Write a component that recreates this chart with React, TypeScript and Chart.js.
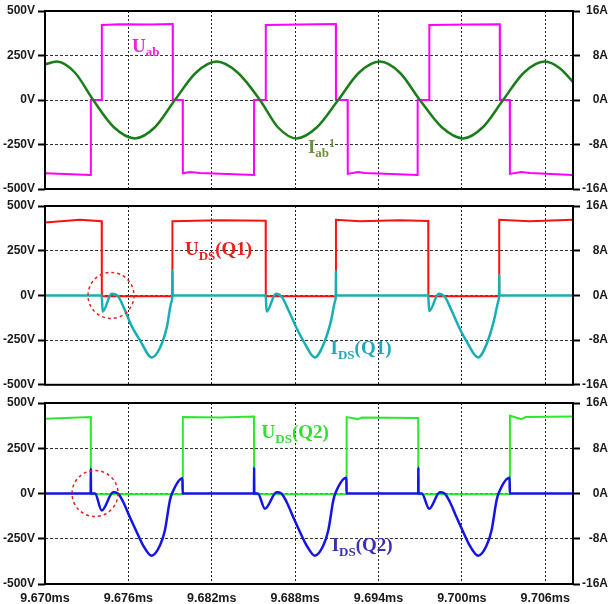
import React, { useEffect, useRef } from "react";
import { Chart, registerables } from "chart.js";

Chart.register(...registerables);

type Pt = [number, number];

// ---------- axes ----------
const X_MIN = 9.67;
const X_MAX = 9.708;
const X_TICKS = [9.67, 9.676, 9.682, 9.688, 9.694, 9.7, 9.706];
const V_TICKS = [-500, -250, 0, 250, 500];
const A_TICKS = [-16, -8, 0, 8, 16];

// ---------- panel 1 : Uab (V), Iab fundamental (A) ----------
const UAB: Pt[] = [
  [9.67, -412], [9.67329, -421], [9.6733, 0], [9.67408, 0], [9.67409, 421],
  [9.6754, 425], [9.67755, 424], [9.67919, 427], [9.6792, 0], [9.67991, 0],
  [9.67992, -412], [9.68043, -405], [9.68115, -410], [9.68504, -421], [9.68505, 0],
  [9.68588, 0], [9.68589, 421], [9.68834, 424], [9.69093, 427], [9.69094, 0],
  [9.69178, 0], [9.69179, -415], [9.69252, -404], [9.69302, -410], [9.69681, -421],
  [9.69682, 0], [9.69765, 0], [9.69766, 421], [9.70057, 424], [9.70273, 426],
  [9.70274, 0], [9.70345, 0], [9.70346, -415], [9.70429, -404], [9.70489, -410],
  [9.70798, -421],
];

const IAB: Pt[] = [
  [9.67, 6.4], [9.67084, 6.9], [9.67216, 4.9], [9.67347, 0], [9.67496, -4.9],
  [9.67647, -6.9], [9.67791, -4.9], [9.67935, 0], [9.68086, 4.9], [9.68235, 6.9],
  [9.68388, 4.9], [9.68547, 0], [9.68676, -4.9], [9.68811, -6.9], [9.68957, -4.9],
  [9.6911, 0], [9.69259, 4.9], [9.6941, 6.9], [9.69554, 4.9], [9.69698, 0],
  [9.69856, -4.9], [9.70009, -6.9], [9.70151, -4.9], [9.70297, 0], [9.70446, 4.9],
  [9.70597, 6.9], [9.70705, 5.7], [9.70798, 3.3],
];

// ---------- panel 2 : Q1 ----------
const UDS1: Pt[] = [
  [9.67, 408], [9.67252, 423], [9.67408, 415], [9.67409, -5], [9.67916, -5],
  [9.67917, 415], [9.68259, 420], [9.68588, 418], [9.68589, -5], [9.69093, -5],
  [9.69094, 423], [9.69266, 415], [9.69554, 420], [9.69758, 416], [9.69759, -5],
  [9.70268, -5], [9.70269, 423], [9.70489, 415], [9.70798, 423],
];

const IDS1: Pt[] = [
  [9.67, 0], [9.67408, 0], [9.67415, -2.9], [9.6748, 0.3], [9.67527, -0.2],
  [9.67576, -2.7], [9.67624, -5.5], [9.67683, -8.0], [9.67768, -11.1], [9.67827, -9.4],
  [9.67876, -5.8], [9.67911, -1.1], [9.67916, 0], [9.67917, 4.4], [9.67918, 0],
  [9.68588, 0], [9.68595, -2.9], [9.68662, 0.3], [9.68705, -0.3], [9.68755, -2.8],
  [9.68806, -5.6], [9.68863, -8.3], [9.68942, -11.1], [9.69007, -8.6], [9.69058, -4.6],
  [9.6909, -0.8], [9.69093, 0], [9.69094, 4.4], [9.69095, 0], [9.69758, 0],
  [9.69765, -2.8], [9.69834, 0.3], [9.69878, -0.3], [9.69928, -2.8], [9.69978, -5.6],
  [9.70036, -8.3], [9.70117, -11.1], [9.7018, -8.6], [9.7023, -4.6], [9.70265, -0.8],
  [9.70268, 0], [9.70269, 3.7], [9.7027, 0], [9.70798, 0],
];

// ---------- panel 3 : Q2 ----------
const UDS2: Pt[] = [
  [9.67, 413], [9.67329, 422], [9.6733, -4], [9.67991, -4], [9.67992, 422],
  [9.68259, 420], [9.68504, 425], [9.68505, -4], [9.6917, -4], [9.69171, 422],
  [9.69252, 411], [9.69281, 420], [9.69686, 417], [9.69687, -4], [9.70345, -4],
  [9.70346, 430], [9.70429, 411], [9.7046, 422], [9.70798, 425],
];

const IDS2: Pt[] = [
  [9.67, 0], [9.67329, 0], [9.6733, 4.4], [9.67331, 0], [9.6736, 0],
  [9.67408, -3.0], [9.67491, 0.2], [9.67525, 0], [9.67563, -1.5], [9.67611, -4.2],
  [9.6766, -6.8], [9.67707, -9.2], [9.67768, -11.0], [9.67827, -9.2], [9.67863, -6.5],
  [9.67899, -1.2], [9.67914, 0], [9.67989, 2.7], [9.67991, 0], [9.68504, 0],
  [9.68505, 4.6], [9.68506, 0], [9.68532, 0], [9.68583, -2.7], [9.68667, 0.2],
  [9.68701, 0], [9.68739, -1.5], [9.68787, -4.2], [9.68835, -6.8], [9.68883, -9.2],
  [9.68942, -11.0], [9.69003, -9.2], [9.69039, -6.5], [9.69075, -1.2], [9.69089, 0],
  [9.69169, 2.8], [9.6917, 0], [9.69686, 0], [9.69687, 4.6], [9.69688, 0],
  [9.69712, 0], [9.69765, -2.7], [9.69842, 0.2], [9.69876, 0], [9.69914, -1.5],
  [9.69962, -4.2], [9.7001, -6.8], [9.70057, -9.2], [9.70118, -11.0], [9.70178, -9.2],
  [9.70214, -6.5], [9.7025, -1.2], [9.70264, 0], [9.70344, 2.8], [9.70345, 0],
  [9.70798, 0],
];

// ---------- annotations ----------
interface LabelPart { text: string; size: number; dy: number }
interface Note { t: number; v: number; color: string; parts: LabelPart[] }
interface Ring { t: number; v: number; r: number }

const NOTES_1: Note[] = [
  { t: 9.67626, v: 270, color: "#f020e0", parts: [{ text: "U", size: 19, dy: 0 }, { text: "ab", size: 13, dy: 4 }] },
  { t: 9.68892, v: -298, color: "#6e8e3c", parts: [{ text: "I", size: 19, dy: 0 }, { text: "ab", size: 13, dy: 4 }, { text: "1", size: 12, dy: -6 }] },
];
const NOTES_2: Note[] = [
  { t: 9.68007, v: 227, color: "#ee1c1c", parts: [{ text: "U", size: 19, dy: 0 }, { text: "DS", size: 13, dy: 5 }, { text: "(Q1)", size: 19, dy: 0 }] },
  { t: 9.69055, v: -327, color: "#22aab4", parts: [{ text: "I", size: 19, dy: 0 }, { text: "DS", size: 13, dy: 5 }, { text: "(Q1)", size: 19, dy: 0 }] },
];
const NOTES_3: Note[] = [
  { t: 9.68559, v: 307, color: "#33dd33", parts: [{ text: "U", size: 19, dy: 0 }, { text: "DS", size: 13, dy: 5 }, { text: "(Q2)", size: 19, dy: 0 }] },
  { t: 9.69063, v: -315, color: "#3a30b0", parts: [{ text: "I", size: 19, dy: 0 }, { text: "DS", size: 13, dy: 5 }, { text: "(Q2)", size: 19, dy: 0 }] },
];
const RINGS_2: Ring[] = [{ t: 9.67475, v: 0, r: 23 }];
const RINGS_3: Ring[] = [{ t: 9.6736, v: 0, r: 23 }];

interface Series { data: Pt[]; axis: "yV" | "yA"; color: string; width: number; smooth: boolean }
interface Panel {
  top: number; height: number; padTop: number; padBottom: number; xHeight: number;
  showX: boolean; series: Series[]; rings: Ring[]; notes: Note[];
}

const PANELS: Panel[] = [
  {
    top: 0, height: 200, padTop: 11, padBottom: 11, xHeight: 0, showX: false,
    series: [
      { data: IAB, axis: "yA", color: "#1a7d1a", width: 2.5, smooth: true },
      { data: UAB, axis: "yV", color: "#ff00ff", width: 2, smooth: false },
    ],
    rings: [], notes: NOTES_1,
  },
  {
    top: 195, height: 200, padTop: 11, padBottom: 10, xHeight: 0, showX: false,
    series: [
      { data: IDS1, axis: "yA", color: "#18afb4", width: 2.5, smooth: true },
      { data: UDS1, axis: "yV", color: "#ff1010", width: 2, smooth: false },
    ],
    rings: RINGS_2, notes: NOTES_2,
  },
  {
    top: 390, height: 214, padTop: 13, padBottom: 0, xHeight: 20, showX: true,
    series: [
      { data: IDS2, axis: "yA", color: "#1414e6", width: 2.5, smooth: true },
      { data: UDS2, axis: "yV", color: "#2ee82e", width: 2, smooth: false },
    ],
    rings: RINGS_3, notes: NOTES_3,
  },
];

const AXIS_FONT = { family: '"Liberation Sans", Arial, sans-serif', size: 12, weight: "bold" as const };
const X_FONT = { family: '"Liberation Sans", Arial, sans-serif', size: 12.5, weight: "bold" as const };
const TRANSPARENT = "rgba(0,0,0,0)";

function makeOverlay(rings: Ring[], notes: Note[]) {
  return {
    id: "overlay",
    afterDatasetsDraw(chart: any) {
      const { ctx, scales, chartArea: a } = chart;
      const xs = scales.x;
      const ys = scales.yV;
      ctx.save();
      rings.forEach((r) => {
        ctx.beginPath();
        ctx.setLineDash([3, 3]);
        ctx.lineWidth = 1.5;
        ctx.strokeStyle = "#e82020";
        ctx.arc(xs.getPixelForValue(r.t), ys.getPixelForValue(r.v), r.r, 0, Math.PI * 2);
        ctx.stroke();
      });
      ctx.setLineDash([]);
      notes.forEach((n) => {
        let x = xs.getPixelForValue(n.t);
        const y = ys.getPixelForValue(n.v);
        ctx.fillStyle = n.color;
        ctx.textBaseline = "alphabetic";
        ctx.textAlign = "left";
        n.parts.forEach((p) => {
          ctx.font = `bold ${p.size}px "Liberation Serif", "Times New Roman", serif`;
          ctx.fillText(p.text, x, y + p.dy);
          x += ctx.measureText(p.text).width;
        });
      });
      ctx.strokeStyle = "#000";
      ctx.lineWidth = 2;
      ctx.strokeRect(a.left, a.top, a.right - a.left, a.bottom - a.top);
      ctx.restore();
    },
  };
}

function makeConfig(p: Panel): any {
  return {
    type: "line",
    data: {
      datasets: p.series.map((s) => ({
        data: s.data.map(([x, y]) => ({ x, y })),
        yAxisID: s.axis,
        borderColor: s.color,
        borderWidth: s.width,
        pointRadius: 0,
        fill: false,
        tension: 0,
        cubicInterpolationMode: s.smooth ? "monotone" : "default",
      })),
    },
    options: {
      animation: false,
      responsive: false,
      events: [],
      layout: { padding: { top: p.padTop, bottom: p.padBottom, left: 0, right: 1 } },
      plugins: { legend: { display: false }, tooltip: { enabled: false } },
      scales: {
        x: {
          type: "linear",
          min: X_MIN,
          max: X_MAX,
          afterBuildTicks: (s: any) => { s.ticks = X_TICKS.map((v) => ({ value: v })); },
          afterFit: (s: any) => { s.height = p.xHeight; },
          ticks: {
            display: p.showX,
            callback: (v: any) => Number(v).toFixed(3) + "ms",
            font: X_FONT,
            color: "#1a1a1a",
            padding: 7,
            maxRotation: 0,
            autoSkip: false,
          },
          grid: {
            color: (c: any) => (c.index === 0 ? TRANSPARENT : "#222"),
            lineWidth: 1,
            drawTicks: false,
          },
          border: { display: false, dash: [2, 2] },
        },
        yV: {
          type: "linear",
          position: "left",
          min: -500,
          max: 500,
          afterBuildTicks: (s: any) => { s.ticks = V_TICKS.map((v) => ({ value: v })); },
          afterFit: (s: any) => { s.width = 45; },
          ticks: { callback: (v: any) => `${v}V`, font: AXIS_FONT, color: "#1a1a1a", padding: 3 },
          grid: {
            color: (c: any) => (c.index === 0 || c.index === V_TICKS.length - 1 ? TRANSPARENT : "#333"),
            lineWidth: 1,
            tickColor: "#000",
            tickWidth: 2,
            tickLength: 7,
          },
          border: { display: false, dash: [3, 2] },
        },
        yA: {
          type: "linear",
          position: "right",
          min: -16,
          max: 16,
          afterBuildTicks: (s: any) => { s.ticks = A_TICKS.map((v) => ({ value: v })); },
          afterFit: (s: any) => { s.width = 35; },
          ticks: { callback: (v: any) => `${v}A`, font: AXIS_FONT, color: "#1a1a1a", padding: 3, crossAlign: "far" },
          grid: {
            drawOnChartArea: false,
            color: "#000",
            tickColor: "#000",
            tickWidth: 2,
            tickLength: 7,
          },
          border: { display: false },
        },
      },
    },
    plugins: [makeOverlay(p.rings, p.notes)],
  };
}

function PanelChart({ p }: { p: Panel }) {
  const ref = useRef<HTMLCanvasElement | null>(null);
  useEffect(() => {
    if (!ref.current) return;
    const chart = new Chart(ref.current, makeConfig(p));
    return () => chart.destroy();
  }, [p]);
  return (
    <canvas
      ref={ref}
      width={609}
      height={p.height}
      style={{ position: "absolute", left: 0, top: p.top, width: 609, height: p.height, display: "block" }}
    />
  );
}

export default function App() {
  return (
    <div style={{ position: "absolute", left: 0, top: 0, width: 609, height: 604, background: "#fff", overflow: "hidden" }}>
      {PANELS.map((p, i) => (
        <PanelChart key={i} p={p} />
      ))}
    </div>
  );
}
